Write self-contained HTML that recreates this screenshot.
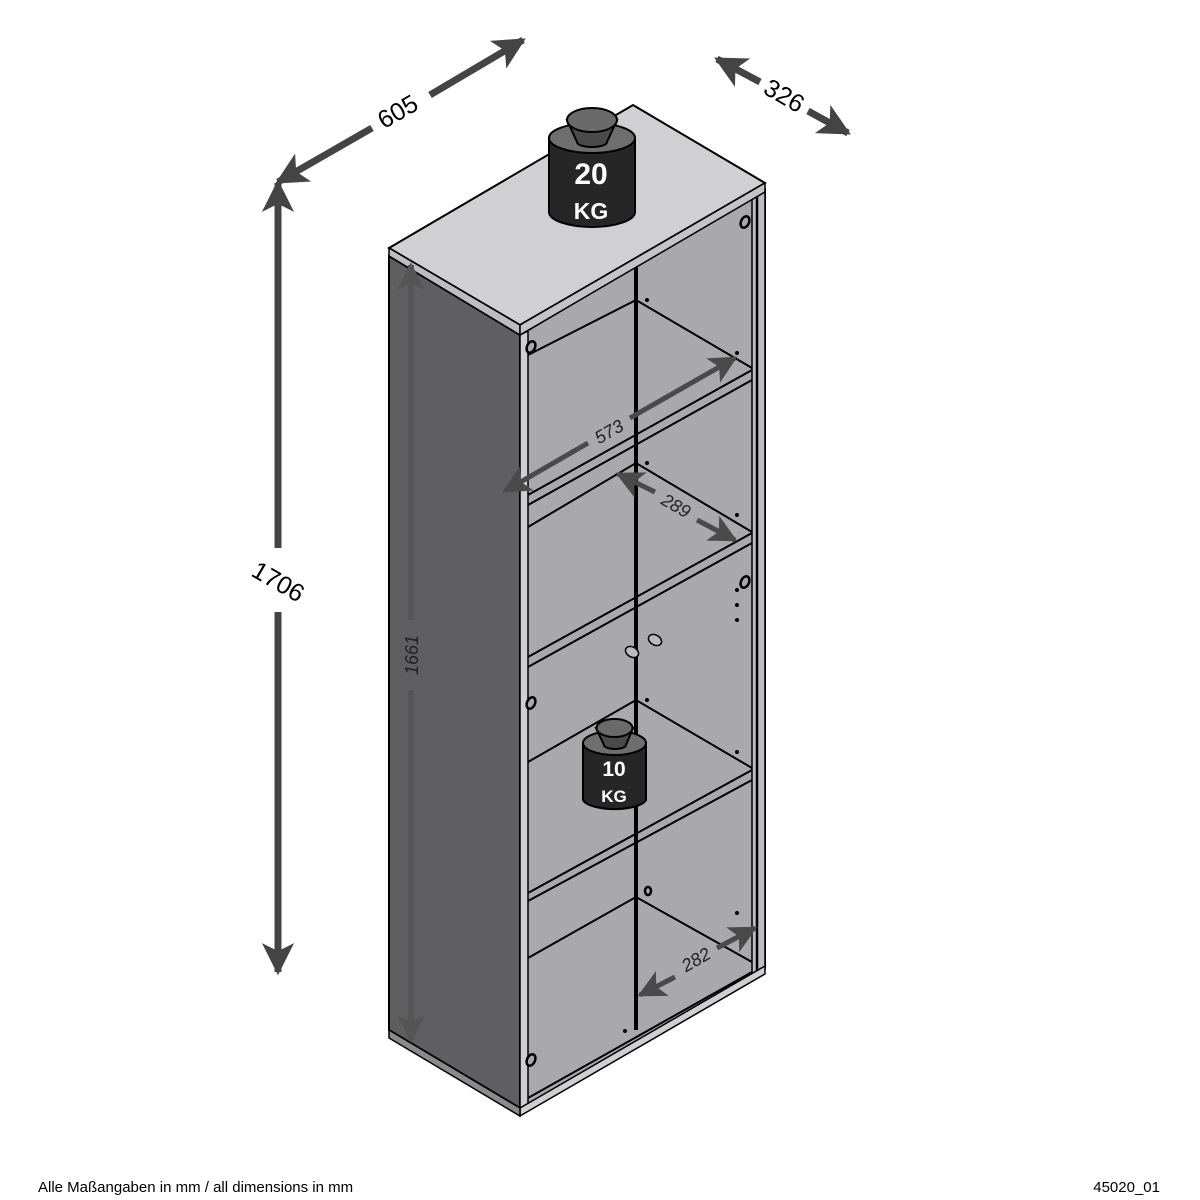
<!DOCTYPE html>
<html><head><meta charset="utf-8"><style>html,body{margin:0;padding:0;background:#fff}svg{display:block}</style></head>
<body>
<svg width="1200" height="1200" viewBox="0 0 1200 1200" xmlns="http://www.w3.org/2000/svg" font-family="Liberation Sans, sans-serif">
<defs>
<marker id="ah" viewBox="0 0 10 10" refX="9" refY="5" markerWidth="5.2" markerHeight="4.6" orient="auto" markerUnits="strokeWidth">
<path d="M0,0 L10,5 L0,10 L2.5,5 z" fill="#444"/></marker>
<marker id="ah3" viewBox="0 0 10 10" refX="9" refY="5" markerWidth="6.4" markerHeight="5.6" orient="auto" markerUnits="strokeWidth">
<path d="M0,0 L10,5 L0,10 L2.5,5 z" fill="#4a4a4a"/></marker>
<marker id="ah2" viewBox="0 0 10 10" refX="9" refY="5" markerWidth="5.2" markerHeight="4.6" orient="auto" markerUnits="strokeWidth">
<path d="M0,0 L10,5 L0,10 L2.5,5 z" fill="#555"/></marker>
</defs>

<polygon points="389,256 520,335 520,1108 389,1030" fill="#5f5f61" stroke="#000" stroke-width="2"/>
<polygon points="520,335 765,190 765,968 520,1110" fill="#a9a9ab" stroke="#000" stroke-width="2"/>
<polygon points="520,335 528,331 528,1104 520,1108" fill="#cfcfd1" stroke="#000" stroke-width="1.5"/>
<polygon points="752,198 765,190 765,968 752,975" fill="#bdbdbf" stroke="#000" stroke-width="1.5"/>
<line x1="757" y1="196" x2="757" y2="972" stroke="#000" stroke-width="2.5"/>

<g stroke="#000" stroke-width="2" fill="none">
<polyline points="528,355 636,300 752,368"/>
<line x1="528" y1="495" x2="752" y2="370"/><line x1="528" y1="505" x2="752" y2="380"/>
<polyline points="528,527 636,463 752,532"/>
<line x1="528" y1="657" x2="752" y2="533"/><line x1="528" y1="667" x2="752" y2="543"/>
<polyline points="528,762 636,700 752,768"/>
<line x1="528" y1="893" x2="752" y2="770"/><line x1="528" y1="901" x2="752" y2="780"/>
<polyline points="528,958 636,897 752,962"/>
<line x1="528" y1="1098" x2="752" y2="972"/>
</g>
<polygon points="520,1108 765,966 765,974 520,1116" fill="#cfcfd1" stroke="#000" stroke-width="1.5"/>
<polygon points="389,1030 520,1108 520,1116 389,1038" fill="#8a8a8c" stroke="#000" stroke-width="1.5"/>
<line x1="636" y1="265" x2="636" y2="1030" stroke="#000" stroke-width="4"/>

<g fill="#a9a9ab" stroke="#000" stroke-width="2.5">
<ellipse cx="531" cy="347" rx="4" ry="6" transform="rotate(25 531 347)"/>
<ellipse cx="531" cy="703" rx="4" ry="6" transform="rotate(25 531 703)"/>
<ellipse cx="531" cy="1060" rx="4" ry="6" transform="rotate(25 531 1060)"/>
<ellipse cx="745" cy="222" rx="4" ry="6" transform="rotate(25 745 222)"/>
<ellipse cx="745" cy="582" rx="4" ry="6" transform="rotate(25 745 582)"/>
<ellipse cx="648" cy="891" rx="3" ry="4"/>
</g>
<g fill="#000">
<circle cx="647" cy="300" r="2"/><circle cx="737" cy="353" r="2"/><circle cx="647" cy="463" r="2"/>
<circle cx="737" cy="515" r="2"/><circle cx="737" cy="590" r="2"/><circle cx="737" cy="605" r="2"/><circle cx="737" cy="620" r="2"/>
<circle cx="647" cy="700" r="2"/><circle cx="737" cy="752" r="2"/><circle cx="737" cy="913" r="2"/><circle cx="625" cy="1031" r="2"/>
</g>
<g fill="#bbb" stroke="#000" stroke-width="1.5">
<ellipse cx="655" cy="640" rx="7" ry="5" transform="rotate(30 655 640)"/>
<ellipse cx="632" cy="652" rx="7" ry="5" transform="rotate(30 632 652)"/>
</g>

<polygon points="389,248 633,105 765,183 520,325" fill="#d0d0d3" stroke="#000" stroke-width="2"/>
<polygon points="389,248 520,325 520,335 389,256" fill="#bdbdbf" stroke="#000" stroke-width="1.5"/>
<polygon points="520,325 765,183 765,192 520,335" fill="#c4c4c6" stroke="#000" stroke-width="1.5"/>

<g>
<path d="M549,138 L549,212 A43,15 0 0 0 635,212 L635,138 Z" fill="#262626" stroke="#000" stroke-width="2"/>
<ellipse cx="592" cy="138" rx="43" ry="15" fill="#6e6e6e" stroke="#000" stroke-width="2"/>
<path d="M567,120 L577,142 A15,5 0 0 0 607,142 L617,120 Z" fill="#4a4a4a" stroke="#000" stroke-width="2"/>
<ellipse cx="592" cy="120" rx="25" ry="12" fill="#6a6a6a" stroke="#000" stroke-width="2"/>
<text x="591" y="184" font-size="30" font-weight="bold" fill="#fff" text-anchor="middle">20</text>
<text x="591" y="219" font-size="23" font-weight="bold" fill="#fff" text-anchor="middle">KG</text>
</g>
<g>
<path d="M583,743 L583,800 A32,11 0 0 0 646,800 L646,743 Z" fill="#262626" stroke="#000" stroke-width="2"/>
<ellipse cx="614.5" cy="743" rx="31.5" ry="12" fill="#6e6e6e" stroke="#000" stroke-width="2"/>
<path d="M596,728 L604,745 A11,4 0 0 0 626,745 L633,728 Z" fill="#4a4a4a" stroke="#000" stroke-width="2"/>
<ellipse cx="614.5" cy="728" rx="18" ry="9" fill="#6a6a6a" stroke="#000" stroke-width="2"/>
<text x="614" y="776" font-size="21" font-weight="bold" fill="#fff" text-anchor="middle">10</text>
<text x="614" y="802" font-size="17" font-weight="bold" fill="#fff" text-anchor="middle">KG</text>
</g>

<g stroke="#444" stroke-width="7" stroke-linecap="butt" fill="none">
<line x1="372" y1="128" x2="278" y2="182" marker-end="url(#ah)"/>
<line x1="430" y1="95" x2="523" y2="40" marker-end="url(#ah)"/>
<line x1="760" y1="82" x2="717" y2="59" marker-end="url(#ah)"/>
<line x1="808" y1="111" x2="848" y2="133" marker-end="url(#ah)"/>
<line x1="278" y1="548" x2="278" y2="183" marker-end="url(#ah)"/>
<line x1="278" y1="612" x2="278" y2="972" marker-end="url(#ah)"/>
</g>
<g stroke="#555" stroke-width="6" fill="none">
<line x1="411" y1="620" x2="411" y2="265" marker-end="url(#ah2)"/>
<line x1="411" y1="690" x2="411" y2="1040" marker-end="url(#ah2)"/>
</g>
<g stroke="#4a4a4a" stroke-width="5" fill="none">
<line x1="588" y1="443" x2="505" y2="491" marker-end="url(#ah3)"/>
<line x1="630" y1="418" x2="735" y2="358" marker-end="url(#ah3)"/>
<line x1="655" y1="492" x2="618" y2="474" marker-end="url(#ah3)"/>
<line x1="697" y1="520" x2="735" y2="540" marker-end="url(#ah3)"/>
<line x1="675" y1="977" x2="640" y2="995" marker-end="url(#ah3)"/>
<line x1="717" y1="948" x2="755" y2="928" marker-end="url(#ah3)"/>
</g>
<g fill="#000" font-size="25" text-anchor="middle">
<text transform="translate(402,119) rotate(-30)">605</text>
<text transform="translate(780,103) rotate(30)">326</text>
<text transform="translate(274,589) rotate(30)">1706</text>
</g>
<g fill="#222" font-size="18" font-style="italic" text-anchor="middle">
<text transform="translate(418,655) rotate(-90)">1661</text>
<text transform="translate(612,437) rotate(-30)">573</text>
<text transform="translate(673,511) rotate(30)">289</text>
<text transform="translate(699,965) rotate(-30)">282</text>
</g>

<text x="38" y="1192" font-size="15" fill="#000">Alle Maßangaben in mm / all dimensions in mm</text>
<text x="1160" y="1192" font-size="15" fill="#000" text-anchor="end">45020_01</text>
</svg>
</body></html>
